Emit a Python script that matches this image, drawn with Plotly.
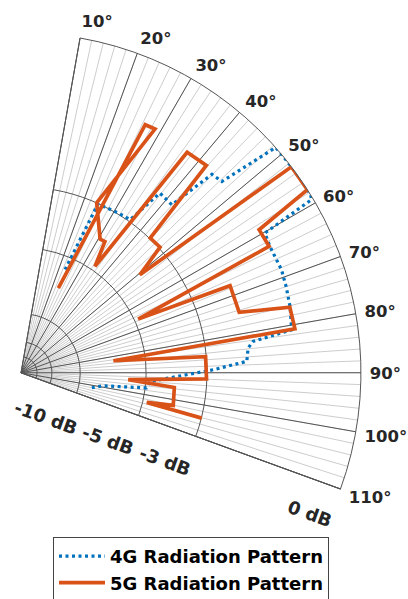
import plotly.graph_objects as go

# ---- data (angle in degrees, radius in normalised radial units 0..1) ----
theta_4g = [23.1, 24.5, 26.3, 31.0, 35.5, 37.7, 41.9, 43.9, 46.4, 48.5, 50.5, 52.5,
            54.5, 56.5, 58.4, 59.2, 60.2, 63.1, 68.4, 72.0, 76.2, 81.0, 82.3, 83.8,
            87.1, 89.1, 93.9, 96.9, 99.0, 102.5]
r_4g = [0.33, 0.545, 0.546, 0.550, 0.553, 0.668, 0.664, 0.810, 0.816, 1.0, 1.0, 1.0,
        1.0, 1.0, 1.0, 0.995, 0.827, 0.821, 0.824, 0.820, 0.815, 0.806, 0.689, 0.672,
        0.665, 0.566, 0.380, 0.372, 0.245, 0.208]

theta_5g = [23.8, 26.6, 28.8, 24.0, 30.6, 32.6, 34.8, 37.0, 41.8, 43.8, 47.9, 50.5,
            52.7, 57.4, 59.0, 63.0, 65.4, 67.4, 74.5, 76.3, 80.9, 82.6, 85.0, 91.9,
            93.7, 95.5, 102.1, 103.3, 104.1]
r_5g = [0.272, 0.816, 0.818, 0.547, 0.457, 0.458, 0.381, 0.812, 0.818, 0.549, 0.551, 0.453,
        1.0, 1.0, 0.817, 0.819, 0.379, 0.666, 0.666, 0.814, 0.816, 0.274, 0.545, 0.546,
        0.316, 0.453, 0.458, 0.380, 0.548]

ring_vals = [0.047, 0.091, 0.174, 0.368, 0.547, 1.0]
label_vals = [0.174, 0.368, 0.547, 1.0]
label_text = ["-10 dB", "-5 dB", "-3 dB", "0 dB"]
label_shift = 0.06           # labels sit a little inward of their rings (MATLAB style)
major_angles = list(range(10, 111, 10))
major_text = [f"{a}°" for a in major_angles]
minor_angles = list(range(10, 111, 2))

FONT = "DejaVu Sans"
TXT = "#262626"
DARK = "#555555"
LIGHT = "#cdcdcd"

fig = go.Figure()
# empty trace so that the minor-grid polar subplot is rendered
fig.add_trace(go.Scatterpolar(theta=[], r=[], mode="lines", showlegend=False,
                              hoverinfo="skip", subplot="polar"))
fig.add_trace(go.Scatterpolar(theta=theta_4g, r=r_4g, mode="lines", name="4G Radiation Pattern",
                              line=dict(color="#0072BD", width=3.2, dash="3px,3.5px"),
                              subplot="polar2"))
fig.add_trace(go.Scatterpolar(theta=theta_5g, r=r_5g, mode="lines", name="5G Radiation Pattern",
                              line=dict(color="#D95319", width=3.7),
                              subplot="polar2"))

dom = dict(x=[21 / 408, 361 / 408], y=[1 - 489 / 599, 1 - 38 / 599])
sector = [-20, 80]
rfont = dict(family=FONT, size=18, color=TXT, weight="bold")
afont = dict(family=FONT, size=16.5, color=TXT, weight="bold")

fig.update_layout(
    width=408, height=599,
    margin=dict(l=0, r=0, t=0, b=0, autoexpand=False),
    paper_bgcolor="white",
    template="none",
    polar=dict(
        domain=dom, sector=sector, bgcolor="white",
        angularaxis=dict(direction="clockwise", rotation=90, thetaunit="degrees",
                         tickmode="array", tickvals=minor_angles, showticklabels=False,
                         ticks="", showgrid=True, gridcolor=LIGHT, gridwidth=1,
                         showline=False),
        radialaxis=dict(range=[0, 1], showgrid=False, showline=False, angle=-20,
                        tickmode="array", tickvals=[v - label_shift for v in label_vals],
                        ticktext=label_text, ticks="outside", ticklen=18,
                        tickcolor="rgba(0,0,0,0)", tickangle=0, tickfont=rfont),
    ),
    polar2=dict(
        domain=dom, sector=sector, bgcolor="rgba(0,0,0,0)",
        angularaxis=dict(direction="clockwise", rotation=90, thetaunit="degrees",
                         tickmode="array", tickvals=major_angles, ticktext=major_text,
                         ticks="outside", ticklen=5, tickcolor="rgba(0,0,0,0)",
                         showgrid=True, gridcolor=DARK, gridwidth=1,
                         showline=True, linecolor=DARK, linewidth=1, tickfont=afont),
        radialaxis=dict(range=[0, 1], tickmode="array", tickvals=ring_vals,
                        showticklabels=False, ticks="",
                        showgrid=True, gridcolor=DARK, gridwidth=1,
                        showline=True, linecolor=DARK, linewidth=1, angle=-20),
    ),
    showlegend=True,
    legend=dict(x=53 / 408, y=1 - 537 / 599, xanchor="left", yanchor="top",
                bgcolor="white", bordercolor="#444444", borderwidth=1, itemwidth=46,
                font=dict(family=FONT, size=18, color="black", weight="bold"),
                tracegroupgap=0),
)

fig.write_html("out.html", config={"displayModeBar": False},
               post_script="document.body.style.margin='0';")
